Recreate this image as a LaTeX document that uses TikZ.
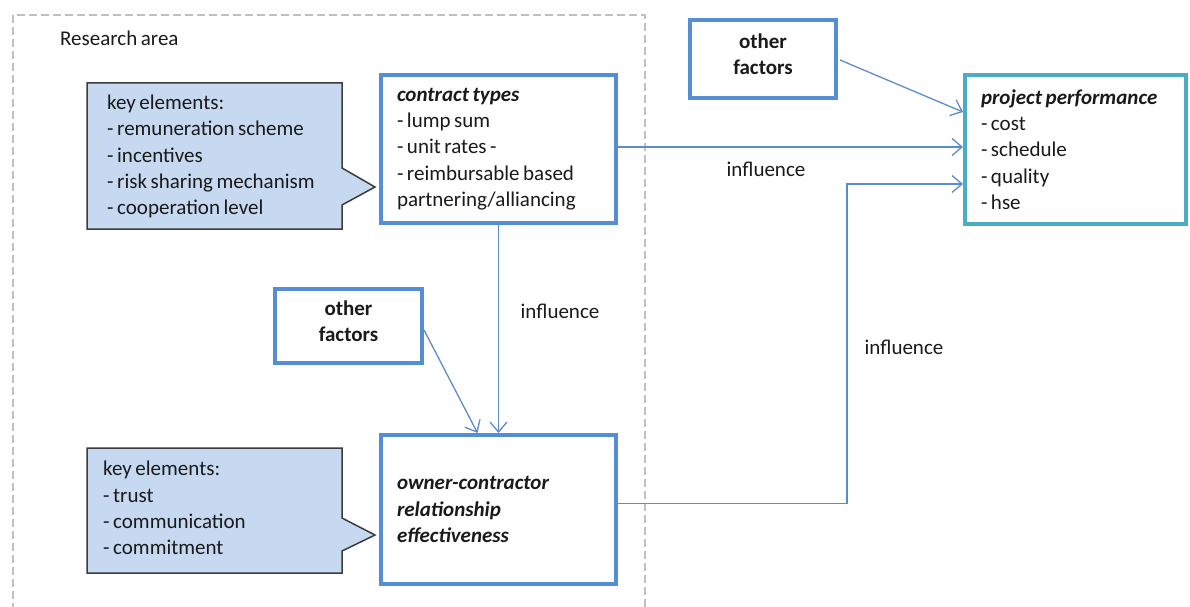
\documentclass[tikz,border=0pt]{standalone}
\usepackage{fontspec}
\setmainfont{Carlito}[WordSpace=0.75]
\usetikzlibrary{arrows.meta,calc}

\definecolor{boxblue}{HTML}{558ED5}
\definecolor{perfteal}{HTML}{4BACC6}
\definecolor{linkblue}{HTML}{5B8BD0}
\definecolor{calloutfill}{HTML}{C6D9F1}
\definecolor{calloutedge}{HTML}{3C3C3C}
\definecolor{framegrey}{HTML}{C0C0C0}
\definecolor{inkdark}{HTML}{1A1A1A}

\begin{document}
\begin{tikzpicture}[x=1pt,y=-1pt,
  font=\fontsize{21}{26.3}\selectfont, text=inkdark,
  blockbox/.style={draw=boxblue, line width=4pt, fill=white, inner sep=0pt},
  listbox/.style={blockbox, align=flush left, inner xsep=16pt},
  perfbox/.style={listbox, draw=perfteal},
  plain/.style={inner sep=0pt, align=left},
  calloutpath/.style={draw=calloutedge, fill=calloutfill, line width=1.5pt, line join=miter},
  link/.style={draw=linkblue, line width=1.3pt, -{Straight Barb[length=10pt,width=17pt,line width=1.3pt]}},
  tag/.style={inner sep=0pt}]

\useasboundingbox (0,0) rectangle (1190,607);
\clip (0,0) rectangle (1190,607);

% research area frame
\draw[framegrey, line width=2.4pt, dash pattern=on 8pt off 4pt] (13,15) rectangle (645,625);
\node[tag, anchor=west] (area) at (60,38) {Research area};

% key-element callouts
\draw[calloutpath] (87,83) -- (342,83) -- (342,168) -- (375,187) -- (342,205)
  -- (342,229) -- (87,229) -- cycle;
\node[plain, anchor=west] (keyA) at (107,156.5) {key elements:\\- remuneration scheme\\- incentives\\- risk sharing mechanism\\- cooperation level};

\draw[calloutpath] (87,448) -- (342,448) -- (342,518) -- (375,535) -- (342,551)
  -- (342,573) -- (87,573) -- cycle;
\node[plain, anchor=west] (keyB) at (103,508) {key elements:\\- trust\\- communication\\- commitment};

% main blocks
\node[listbox, minimum width=235pt, minimum height=148pt, text width=203pt] (ct) at (498.5,149)
  {\textbf{\textit{contract types}}\\- lump sum\\- unit rates -\\- reimbursable based\\partnering/alliancing};

\node[listbox, minimum width=235pt, minimum height=149pt, text width=203pt] (rel) at (498.5,509.5)
  {\textbf{\textit{owner-contractor}}\\\textbf{\textit{relationship}}\\\textbf{\textit{effectiveness}}};

\node[perfbox, minimum width=221pt, minimum height=149pt, text width=189pt] (pp) at (1075.5,149.5)
  {\textbf{\textit{project performance}}\\- cost\\- schedule\\- quality\\- hse};

\node[blockbox, minimum width=146pt, minimum height=78pt] (ofA) at (763,59) {};
\node[tag, align=center, font=\fontsize{21}{26}\selectfont\bfseries] (ofAt) at (763,54) {other\\factors};

\node[blockbox, minimum width=147pt, minimum height=74pt] (ofB) at (348.5,326) {};
\node[tag, align=center, font=\fontsize{21}{26}\selectfont\bfseries] (ofBt) at (348.5,321) {other\\factors};

% connectors
\coordinate (riseB) at (847,184);
\draw[link] ($(ofA.east)+(2,1)$) -- ($(pp.north west)+(0,39)$);
\draw[link] ($(ct.east)+(0,-2)$) -- ($(ct.east -| pp.west)+(0,-2)$);
\draw[link] ($(rel.east)+(0,-6)$) -| (riseB) -- (riseB -| pp.west);
\draw[link] (ct.south) -- (rel.north);
\draw[link] ($(ofB.east)+(0,4)$) -- ($(rel.north)+(-21,0)$);

% connector labels
\node[tag] (infA) at (766,169) {influence};
\node[tag] (infB) at (560,311) {influence};
\node[tag] (infC) at (904,347) {influence};

\end{tikzpicture}
\end{document}
